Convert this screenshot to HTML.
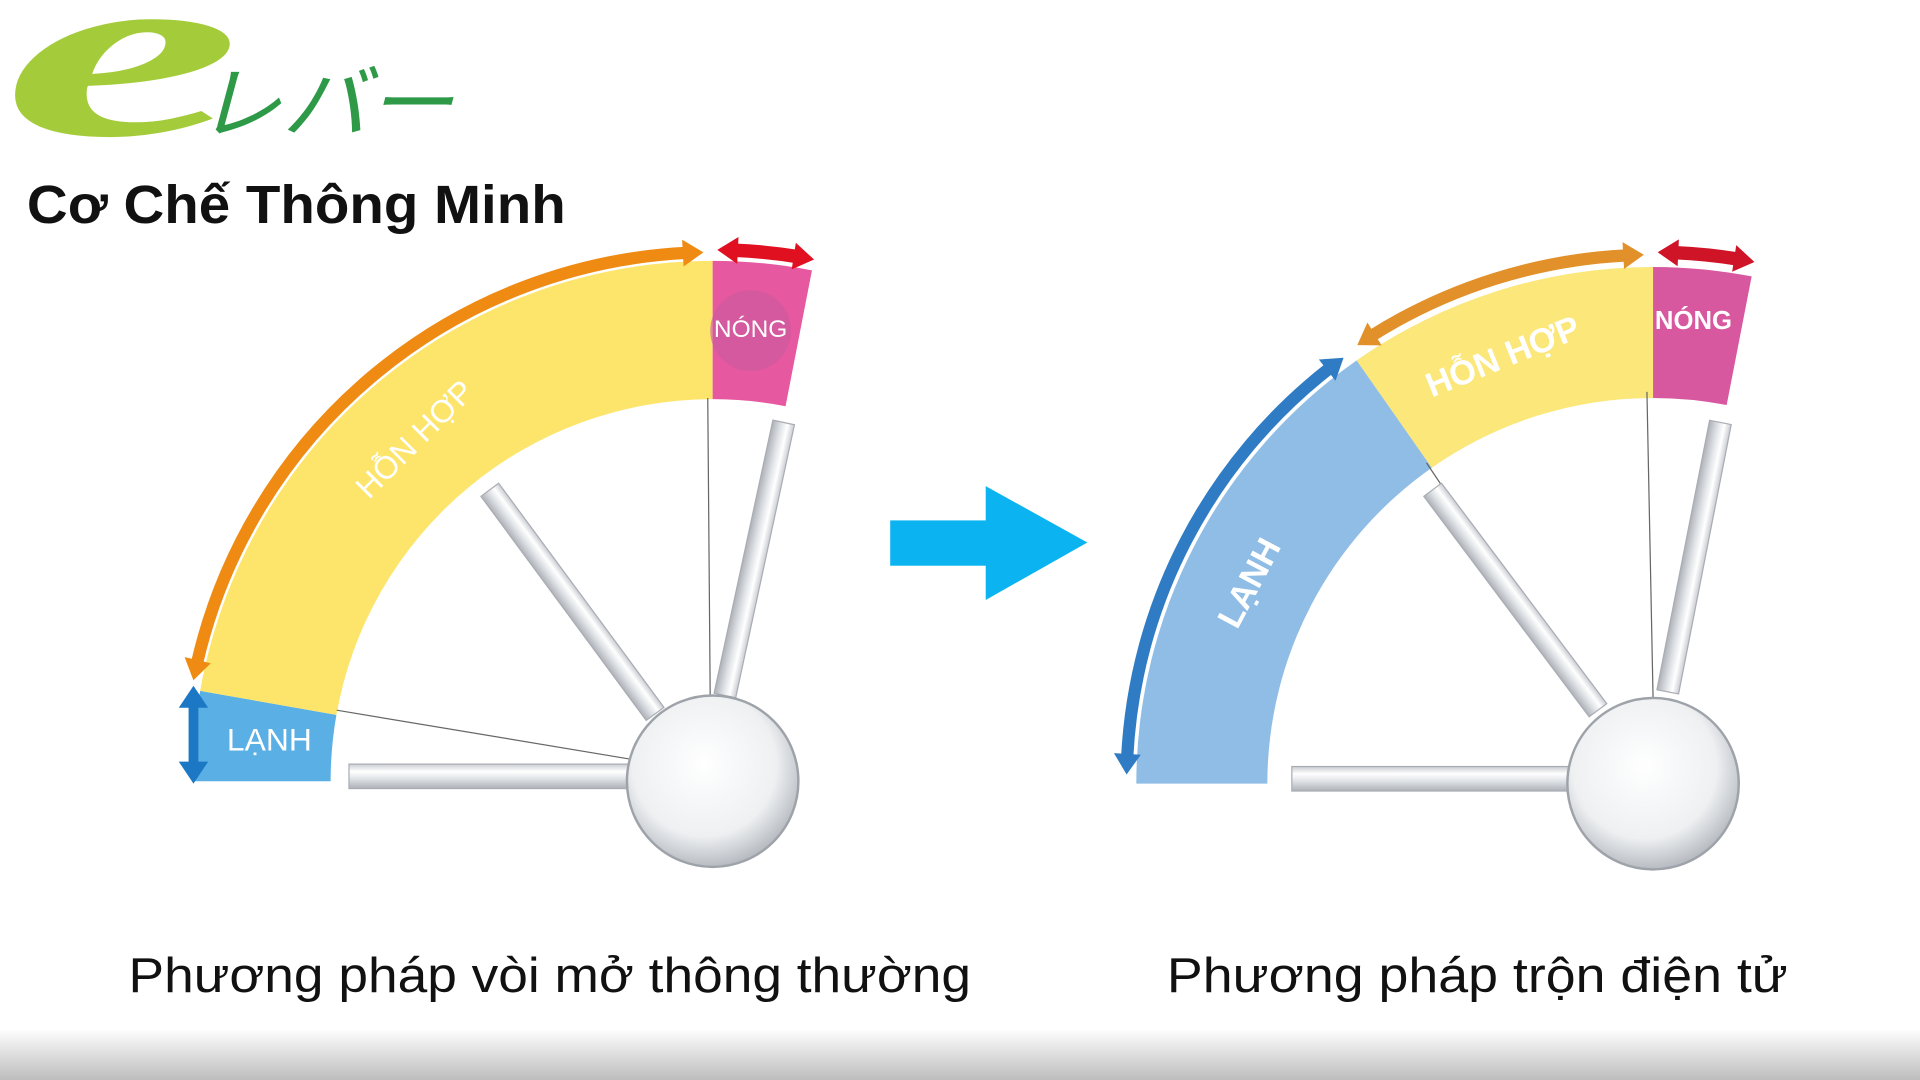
<!DOCTYPE html>
<html><head><meta charset="utf-8"><style>
html,body{margin:0;padding:0;background:#fff;width:1920px;height:1080px;overflow:hidden}
svg{display:block}
</style></head><body>
<svg id="s" width="1920" height="1080" viewBox="0 0 1568 882" preserveAspectRatio="none" xmlns="http://www.w3.org/2000/svg">
<defs>
<linearGradient id="bot" x1="0" y1="0" x2="0" y2="1"><stop offset="0" stop-color="#fff"/><stop offset="1" stop-color="#bdbdbd"/></linearGradient>
<radialGradient id="ball" cx="0.45" cy="0.4" r="0.6"><stop offset="0" stop-color="#fff"/><stop offset="0.7" stop-color="#eef0f2"/><stop offset="1" stop-color="#b8bcc2"/></radialGradient>
<linearGradient id="tube" x1="0" y1="0" x2="0" y2="1"><stop offset="0" stop-color="#c9ccd2"/><stop offset="0.3" stop-color="#fff"/><stop offset="0.6" stop-color="#dfe2e6"/><stop offset="1" stop-color="#aeb2b8"/></linearGradient>
</defs>
<rect x="0" y="840" width="1568" height="42" fill="url(#bot)"/>
<text transform="translate(2,110) scale(2.2,1)" font-family="Liberation Serif,serif" font-style="italic" font-size="200" fill="#a4cc3a" font-weight="bold">e</text>
<text x="160" y="108" font-family="Liberation Sans,'Noto Sans CJK JP',sans-serif" font-size="66" fill="#2e9a48" font-style="italic" textLength="210" lengthAdjust="spacingAndGlyphs">レバー</text>
<text x="22" y="182" font-family="Liberation Sans,'Noto Sans CJK SC',sans-serif" font-weight="bold" font-size="44" fill="#111" textLength="440" lengthAdjust="spacingAndGlyphs">Cơ Chế Thông Minh</text>
<g id="g"></g>
<rect x="727" y="425" width="82" height="37" fill="#0bb4f0"/>
<polygon points="805,397 888,443 805,490" fill="#0bb4f0"/>
<text x="105" y="810" font-family="Liberation Sans,sans-serif" font-size="40" fill="#111" textLength="688" lengthAdjust="spacingAndGlyphs">Phương pháp vòi mở thông thường</text>
<text x="953" y="810" font-family="Liberation Sans,sans-serif" font-size="40" fill="#111" textLength="507" lengthAdjust="spacingAndGlyphs">Phương pháp trộn điện tử</text>
</svg>
<script>
var g=document.getElementById('g'),NS='http://www.w3.org/2000/svg';
function el(t,a,txt){var e=document.createElementNS(NS,t);for(var k in a)e.setAttribute(k,a[k]);if(txt)e.textContent=txt;g.appendChild(e);return e;}
function P(cx,cy,r,a){a=a*Math.PI/180;return [cx+r*Math.cos(a),cy+r*Math.sin(a)];}
function band(cx,cy,r1,r2,a1,a2,fill){var p1=P(cx,cy,r2,a1),p2=P(cx,cy,r2,a2),p3=P(cx,cy,r1,a2),p4=P(cx,cy,r1,a1);
el('path',{d:'M'+p1+' A'+r2+' '+r2+' 0 0 1 '+p2+' L'+p3+' A'+r1+' '+r1+' 0 0 0 '+p4+'Z',fill:fill});}
function arrow(cx,cy,r,a1,a2,col,w){var h=14;var da=(h/r)*180/Math.PI;
var s=P(cx,cy,r,a1+da),e=P(cx,cy,r,a2-da);
el('path',{d:'M'+s+' A'+r+' '+r+' 0 0 1 '+e,stroke:col,'stroke-width':w,fill:'none'});
[[a1,1],[a2,-1]].forEach(function(q){var tip=P(cx,cy,r,q[0]),b=q[0]+q[1]*da*1.2;var o=P(cx,cy,r+11,b),i=P(cx,cy,r-11,b);
el('polygon',{points:tip+' '+o+' '+i,fill:col});});}
function tube(x1,y1,x2,y2,w){var L=Math.hypot(x2-x1,y2-y1),ang=Math.atan2(y2-y1,x2-x1)*180/Math.PI;
el('rect',{x:0,y:-w/2,width:L,height:w,fill:'url(#tube)',stroke:'#a9adb3','stroke-width':1,transform:'translate('+x1+','+y1+') rotate('+ang+')'});}
function line(x1,y1,x2,y2){el('line',{x1:x1,y1:y1,x2:x2,y2:y2,stroke:'#666','stroke-width':1});}
function txt(x,y,rot,s,size,bold){el('text',{x:0,y:0,'text-anchor':'middle','dominant-baseline':'middle',transform:'translate('+x+','+y+') rotate('+rot+')','font-family':'Liberation Sans,sans-serif','font-size':size,'font-weight':bold?'bold':'normal',fill:'#fff'},s);}
// Left
var cx=582,cy=638;
band(cx,cy,312,425,180,190,'#5ab0e4');
band(cx,cy,312,425,190,270,'#fde56c');
band(cx,cy,312,425,270,281,'#e6589f');
el('circle',{cx:613,cy:270,r:33,fill:'#c95a9f',opacity:0.6});
arrow(cx,cy,432,191,269,'#ef8a12',10);
arrow(cx,cy,434,270.5,281,'#e01020',11);
el('line',{x1:158,y1:568,x2:158,y2:630,stroke:'#1c78c4','stroke-width':8});
el('polygon',{points:'158,560 146,578 170,578',fill:'#1c78c4'});
el('polygon',{points:'158,640 146,622 170,622',fill:'#1c78c4'});
line(578,325,580,570);line(275,580,515,620);
tube(400,400,535,583,18);tube(640,345,592,568,18);tube(285,634,515,634,20);
el('circle',{cx:cx,cy:cy,r:70,fill:'url(#ball)',stroke:'#9ea3aa','stroke-width':2});
txt(340,360,-45,'HỖN HỢP',26,false);txt(220,606,0,'LẠNH',26,false);txt(613,270,0,'NÓNG',20,false);
// Right
cx=1350;cy=640;
band(cx,cy,315,422,180,235,'#8fbde6');
band(cx,cy,315,422,235,270,'#fbe77a');
band(cx,cy,315,422,270,281,'#d7589e');
arrow(cx,cy,430,181,234,'#2f7cc4',10);
arrow(cx,cy,432,236,269,'#e2902a',10);
arrow(cx,cy,434,270.5,281,'#d01428',11);
line(1345,320,1350,570);line(1165,378,1300,580);
tube(1170,400,1305,580,18);tube(1405,345,1362,565,18);tube(1055,636,1285,636,20);
el('circle',{cx:cx,cy:cy,r:70,fill:'url(#ball)',stroke:'#9ea3aa','stroke-width':2});
txt(1228,293,-22,'HỖN HỢP',28,true);txt(1022,477,-62,'LẠNH',28,true);txt(1383,263,0,'NÓNG',21,true);
</script>
</body></html>
